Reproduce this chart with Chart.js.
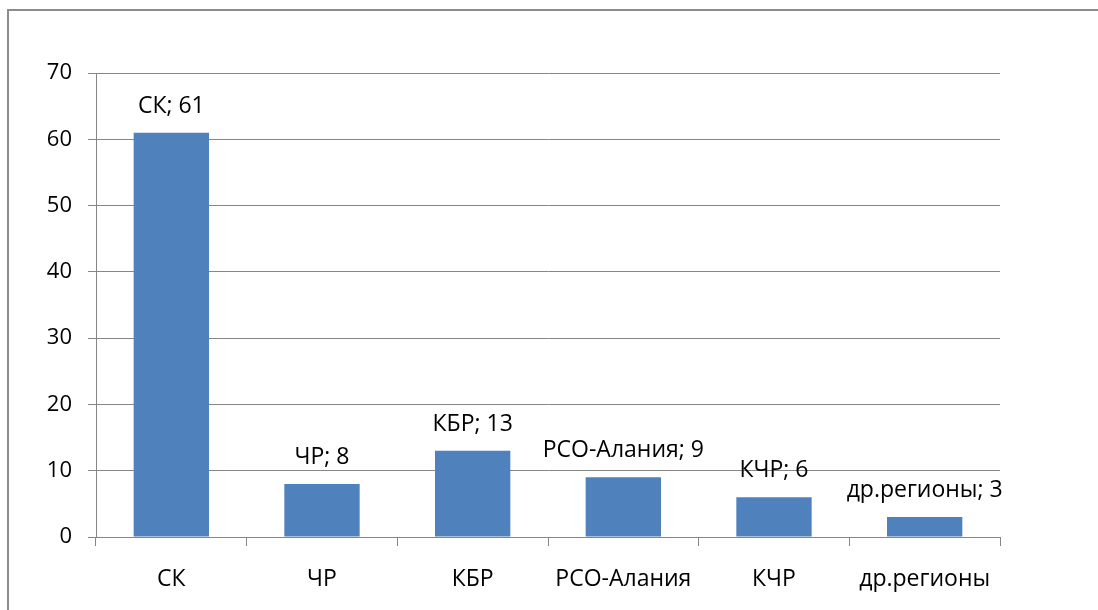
<!DOCTYPE html>
<html>
<head>
<meta charset="utf-8">
<script src="https://cdn.jsdelivr.net/npm/chart.js@4/dist/chart.umd.min.js"></script>
<style>
  html, body { margin: 0; padding: 0; background: #fff; }
  #wrap { width: 1098px; height: 610px; }
</style>
</head>
<body>
<div id="wrap"><canvas id="grafico" width="1098" height="610"></canvas></div>
<script>
// Dados do gráfico
const regioes = ['СК', 'ЧР', 'КБР', 'РСО-Алания', 'КЧР', 'др.регионы'];
const valores = [61, 8, 13, 9, 6, 3];
const ticksY = [0, 10, 20, 30, 40, 50, 60, 70];

const corBarra = '#4f81bd';
const corGrade = '#868686';
const fonte = "'Open Sans', 'DejaVu Sans', sans-serif";

// Moldura cinza em volta do gráfico
const moldura = {
  id: 'moldura',
  beforeDraw(chart) {
    const ctx = chart.ctx;
    ctx.save();
    ctx.fillStyle = '#fff';
    ctx.fillRect(0, 0, chart.width, chart.height);
    ctx.strokeStyle = '#8c8c8c';
    ctx.lineWidth = 2;
    ctx.strokeRect(8, 10, chart.width + 20, chart.height + 20);
    ctx.restore();
  }
};

// Rótulos "categoria; valor" acima das barras
const rotulos = {
  id: 'rotulos',
  afterDatasetsDraw(chart) {
    const ctx = chart.ctx;
    const meta = chart.getDatasetMeta(0);
    ctx.save();
    ctx.font = '23px ' + fonte;
    ctx.fillStyle = '#000';
    ctx.textBaseline = 'alphabetic';
    ctx.textAlign = 'center';
    meta.data.forEach((barra, i) => {
      const texto = regioes[i] + '; ' + valores[i];
      const w = ctx.measureText(texto).width;
      let x = barra.x;
      if (x + w / 2 > chart.chartArea.right + 3) x = chart.chartArea.right + 3 - w / 2;
      ctx.fillText(texto, x, barra.y - 20);
    });
    ctx.restore();
  }
};

new Chart(document.getElementById('grafico'), {
  type: 'bar',
  data: {
    labels: regioes,
    datasets: [{
      data: valores,
      backgroundColor: corBarra,
      borderWidth: 0,
      barPercentage: 0.5,
      categoryPercentage: 1
    }]
  },
  options: {
    responsive: false,
    animation: false,
    layout: { padding: { left: 0, top: 73, right: 98, bottom: 0 } },
    plugins: { legend: { display: false }, tooltip: { enabled: false } },
    scales: {
      x: {
        grid: { drawOnChartArea: false, drawTicks: true, tickLength: 9, color: corGrade, offset: true },
        border: { color: corGrade, width: 1 },
        ticks: { color: '#000', font: { family: fonte, size: 23 }, padding: 20, maxRotation: 0 },
        afterFit(scale) { scale.height = 73; }
      },
      y: {
        min: 0,
        max: 70,
        afterBuildTicks(scale) { scale.ticks = ticksY.map(v => ({ value: v })); },
        grid: { color: corGrade, tickLength: 8 },
        border: { color: corGrade, width: 1 },
        ticks: { color: '#000', font: { family: fonte, size: 22 }, padding: 16 },
        afterFit(scale) { scale.width = 96; }
      }
    }
  },
  plugins: [moldura, rotulos]
});
</script>
</body>
</html>
